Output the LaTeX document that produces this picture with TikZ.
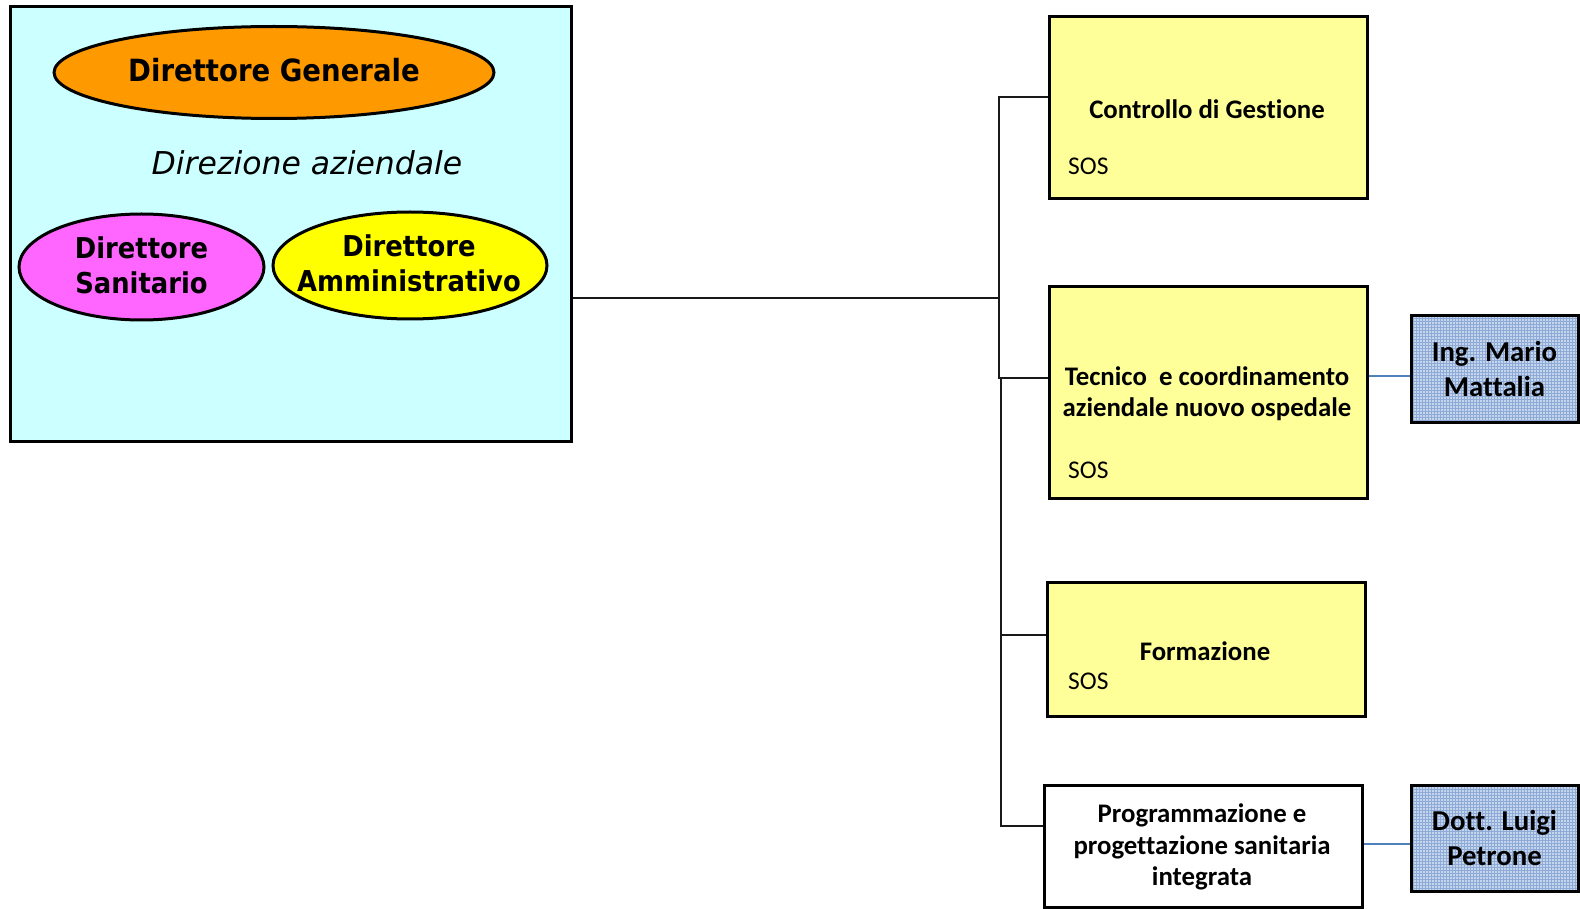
\documentclass[tikz,border=0pt]{standalone}
\usepackage{fontspec}
\setmainfont{Carlito}[Ligatures=NoCommon]
\newfontfamily\dv[FakeStretch=0.9]{DejaVu Sans}
\newfontfamily\dvi{DejaVu Sans}
\usetikzlibrary{shapes.geometric,patterns}
\definecolor{cyanbg}{HTML}{CCFFFF}
\definecolor{orangedg}{HTML}{FF9900}
\definecolor{magds}{HTML}{FF66FF}
\definecolor{yellowda}{HTML}{FFFF00}
\definecolor{paleyel}{HTML}{FFFF99}
\definecolor{bluebox}{HTML}{C5D5EC}
\definecolor{bluegrid}{HTML}{8EAAD6}
\definecolor{blueline}{HTML}{4F81BD}
\tikzset{
  ell/.style={ellipse,draw=black,line width=3pt,inner sep=0pt},
  elltext/.style={inner sep=0pt,align=center,font=\dv\bfseries\fontsize{28.7}{35}\selectfont},
  unitbox/.style={draw=black,line width=3pt,fill=paleyel,inner sep=0pt},
  whitebox/.style={draw=black,line width=3pt,fill=white,inner sep=0pt},
  namebox/.style={draw=black,line width=3pt,preaction={fill=bluebox},pattern=grid,pattern color=bluegrid,inner sep=0pt,align=center,font=\bfseries\fontsize{28.8}{35.3}\selectfont},
  title/.style={align=center,inner sep=0pt,font=\bfseries\fontsize{26.8}{31.4}\selectfont},
  sos/.style={anchor=west,inner sep=0pt,font=\fontsize{25.5}{28}\selectfont},
  conn/.style={line width=2pt,draw=black!90},
  bconn/.style={line width=2.5pt,draw=blueline}
}
\begin{document}
\begin{tikzpicture}[x=1pt,y=-1pt]
\useasboundingbox (0,0) rectangle (1580,909);
% left block
\node[draw=black,line width=3pt,fill=cyanbg,minimum width=561pt,minimum height=434pt,inner sep=0pt] (dir) at (290.5,224) {};
\node[ell,fill=orangedg,minimum width=440pt,minimum height=92pt] (dg) at (274,72.5) {};
\node[elltext,font=\dv\bfseries\fontsize{30.6}{35}\selectfont] (dgt) at (274,70) {Direttore Generale};
\node[inner sep=0pt,font=\dvi\itshape\fontsize{31.5}{34}\selectfont] (da) at (307,163) {Direzione aziendale};
\node[ell,fill=magds,minimum width=245pt,minimum height=106pt] (ds) at (141.5,267) {};
\node[elltext] (dst) at (141.5,265) {Direttore\\Sanitario};
\node[ell,fill=yellowda,minimum width=274pt,minimum height=107pt] (dam) at (410,265.5) {};
\node[elltext] (damt) at (409,263.5) {Direttore\\Amministrativo};
% right boxes
\node[unitbox,minimum width=318pt,minimum height=181.5pt] (b1) at (1208,107.75) {};
\node[title] (t1) at (1207,109) {Controllo di Gestione};
\node[sos] (s1) at (1068,166) {SOS};
\node[unitbox,minimum width=318pt,minimum height=211pt] (b2) at (1208,392.5) {};
\node[title] (t2) at (1207,393.5) {Tecnico\ \ e coordinamento\\aziendale nuovo ospedale};
\node[sos] (s2) at (1068,470) {SOS};
\node[unitbox,minimum width=318pt,minimum height=134pt] (b3) at (1206,649) {};
\node[title] (t3) at (1205,651) {Formazione};
\node[sos] (s3) at (1068,681) {SOS};
\node[whitebox,minimum width=318pt,minimum height=122pt] (b4) at (1203,846) {};
\node[title] (t4) at (1202,847) {Programmazione e\\progettazione sanitaria\\integrata};
\node[namebox,minimum width=167pt,minimum height=106pt] (n1) at (1494.5,369) {Ing. Mario\\Mattalia};
\node[namebox,minimum width=167pt,minimum height=106pt] (n2) at (1494.5,838) {Dott. Luigi\\Petrone};
% connectors
\coordinate (j0) at (999,298);
\coordinate (j1) at (999,97);
\coordinate (j2) at (999,378);
\coordinate (j3) at (1001,635);
\coordinate (j4) at (1001,826);
\draw[conn] (dir.east |- j0) -- (j0);
\draw[conn] (b1.west |- j1) -- (j1) -- (j2) -- (b2.west |- j2);
\draw[conn] (j2 -| j3) -- (j3) -- (j4) -- (b4.west |- j4);
\draw[conn] (j3) -- (b3.west |- j3);
\coordinate (k1) at (1400,376);
\coordinate (k2) at (1400,844);
\draw[bconn] (b2.east |- k1) -- (n1.west |- k1);
\draw[bconn] (b4.east |- k2) -- (n2.west |- k2);
\end{tikzpicture}
\end{document}
